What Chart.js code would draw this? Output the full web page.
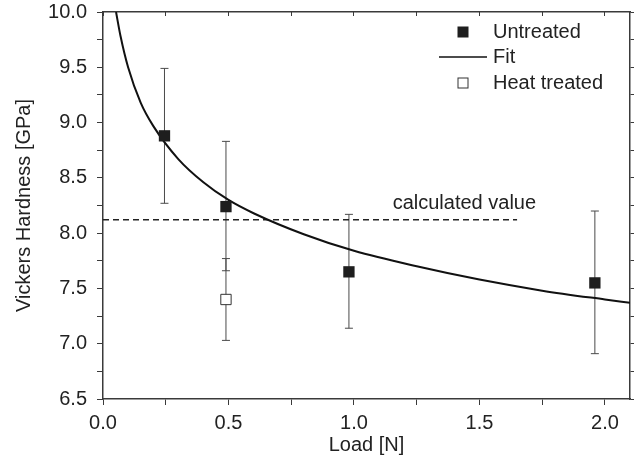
<!DOCTYPE html>
<html>
<head>
<meta charset="utf-8">
<script src="https://cdn.jsdelivr.net/npm/chart.js@4.4.1/dist/chart.umd.min.js"></script>
<style>
  body { margin: 0; background: #fff; }
  #wrap { width: 639px; height: 466px; }
</style>
</head>
<body>
<div id="wrap"><canvas id="hardnessChart" width="639" height="466"></canvas></div>
<script>
// load in N and hardness in GPa
const loads = [0.245, 0.49, 0.98, 1.96];
const untreated = [8.88, 8.24, 7.65, 7.55];
const untreatedHigh = [9.49, 8.83, 8.17, 8.20];
const untreatedLow = [8.27, 7.66, 7.14, 6.91];

const heatLoads = [0.49];
const heatTreated = [7.40];
const heatHigh = [7.77];
const heatLow = [7.03];

// fit curve, sampled by eye along the drawn line
const fitLoads = [0.052, 0.07, 0.1, 0.15, 0.2, 0.3, 0.4, 0.5, 0.6, 0.8, 1.0, 1.25, 1.5, 1.75, 2.0, 2.1];
const fitHardness = [10.0, 9.78, 9.50, 9.18, 8.97, 8.67, 8.46, 8.30, 8.18, 7.99, 7.84, 7.70, 7.58, 7.48, 7.40, 7.37];

const calcValue = 8.12;
const calcRange = [0, 1.65];

const xTicks = [0.0, 0.5, 1.0, 1.5, 2.0];
const yTicks = [6.5, 7.0, 7.5, 8.0, 8.5, 9.0, 9.5, 10.0];

const axisColor = '#3a3a3a';
const barColor = '#4a4a4a';

Chart.defaults.font.family = '"Liberation Sans", Arial, sans-serif';
Chart.defaults.font.size = 20;
Chart.defaults.color = '#222';

function pts(xs, ys) {
    return xs.map((x, i) => ({ x: x, y: ys[i] }));
}

// one little dataset per error bar, caps are 'line' point styles
let errorBars = [];
loads.forEach((x, i) => {
    errorBars.push({ x: x, lo: untreatedLow[i], hi: untreatedHigh[i] });
});
heatLoads.forEach((x, i) => {
    errorBars.push({ x: x, lo: heatLow[i], hi: heatHigh[i] });
});
const errorSets = errorBars.map(b => ({
    label: 'err',
    data: [{ x: b.x, y: b.lo }, { x: b.x, y: b.hi }],
    showLine: true,
    borderColor: barColor,
    borderWidth: 1,
    pointStyle: 'line',
    pointRadius: 4,
    pointBorderColor: barColor,
    pointBorderWidth: 1,
    order: 5
}));

// legend + "calculated value" text drawn inside the plot
const insideText = {
    id: 'insideText',
    afterDatasetsDraw(chart) {
        const ctx = chart.ctx;
        const area = chart.chartArea;
        const xs = chart.scales.x, ys = chart.scales.y;
        ctx.save();
        ctx.font = '20px "Liberation Sans", Arial, sans-serif';
        ctx.fillStyle = '#222';
        ctx.textBaseline = 'middle';
        ctx.textAlign = 'center';
        ctx.fillText('calculated value', xs.getPixelForValue(1.44), ys.getPixelForValue(calcValue) - 16);

        const mx = area.right - 167, tx = area.right - 137;
        const rows = [area.top + 20, area.top + 45, area.top + 71];
        ctx.textAlign = 'left';
        ctx.fillStyle = '#1e1e1e';
        ctx.fillRect(mx - 5.5, rows[0] - 5.5, 11, 11);
        ctx.strokeStyle = '#111';
        ctx.lineWidth = 1.5;
        ctx.beginPath();
        ctx.moveTo(area.right - 191, rows[1]);
        ctx.lineTo(area.right - 143, rows[1]);
        ctx.stroke();
        ctx.lineWidth = 1;
        ctx.strokeStyle = '#333';
        ctx.fillStyle = '#fff';
        ctx.fillRect(mx - 5, rows[2] - 5, 10, 10);
        ctx.strokeRect(mx - 5, rows[2] - 5, 10, 10);
        ctx.fillStyle = '#222';
        ctx.fillText('Untreated', tx, rows[0]);
        ctx.fillText('Fit', tx, rows[1]);
        ctx.fillText('Heat treated', tx, rows[2]);
        ctx.restore();
    }
};

const chartCanvas = document.getElementById('hardnessChart');
new Chart(chartCanvas, {
    type: 'scatter',
    data: {
        datasets: [
            {
                label: 'Untreated',
                data: pts(loads, untreated),
                pointStyle: 'rect',
                pointRadius: 8,
                backgroundColor: '#1e1e1e',
                borderColor: '#1e1e1e',
                borderWidth: 0,
                order: 1
            },
            {
                label: 'Heat treated',
                data: pts(heatLoads, heatTreated),
                pointStyle: 'rect',
                pointRadius: 7.3,
                backgroundColor: '#fff',
                borderColor: '#333',
                borderWidth: 1,
                order: 2
            },
            {
                label: 'Fit',
                data: pts(fitLoads, fitHardness),
                showLine: true,
                cubicInterpolationMode: 'monotone',
                borderColor: '#111',
                borderWidth: 2,
                pointRadius: 0,
                order: 3
            },
            {
                label: 'calculated value',
                data: pts(calcRange, [calcValue, calcValue]),
                showLine: true,
                borderColor: '#222',
                borderWidth: 1.5,
                borderDash: [6, 4],
                pointRadius: 0,
                order: 4
            },
            ...errorSets
        ]
    },
    options: {
        responsive: false,
        animation: false,
        layout: { padding: { top: 0, right: 0, left: 0, bottom: 11 } },
        plugins: {
            legend: { display: false },
            tooltip: { enabled: false }
        },
        scales: {
            x: {
                type: 'linear',
                position: 'bottom',
                min: 0,
                max: 2.1,
                afterBuildTicks: axis => {
                    axis.ticks = [];
                    for (let v = 0; v <= 2.1; v += 0.25) axis.ticks.push({ value: Math.round(v * 100) / 100 });
                },
                afterFit: axis => {
                    axis.height = 56;
                },
                ticks: {
                    autoSkip: false,
                    maxRotation: 0,
                    padding: 6,
                    callback: v => xTicks.includes(v) ? v.toFixed(1) : ''
                },
                grid: { drawOnChartArea: false, tickLength: 6, color: axisColor },
                border: { color: axisColor, width: 1.5 },
                title: {
                    display: true,
                    text: 'Load [N]',
                    font: { lineHeight: 1.0 },
                    padding: { top: 0, bottom: 0 }
                }
            },
            x2: {
                type: 'linear',
                position: 'top',
                min: 0,
                max: 2.1,
                afterBuildTicks: axis => {
                    axis.ticks = [];
                    for (let v = 0; v <= 2.1; v += 0.25) axis.ticks.push({ value: v });
                },
                afterFit: axis => {
                    axis.height = 12;
                },
                ticks: { display: false },
                grid: { drawOnChartArea: false, tickLength: -4, color: axisColor },
                border: { color: axisColor, width: 1.5 }
            },
            y: {
                type: 'linear',
                position: 'left',
                min: 6.5,
                max: 10,
                afterBuildTicks: axis => {
                    axis.ticks = [];
                    for (let v = 6.5; v <= 10.001; v += 0.25) axis.ticks.push({ value: Math.round(v * 100) / 100 });
                },
                afterFit: axis => {
                    axis.width = 103;
                    axis.paddingTop = 0;
                    axis.paddingBottom = 0;
                },
                ticks: {
                    autoSkip: false,
                    padding: 10,
                    callback: v => yTicks.includes(v) ? v.toFixed(1) : ''
                },
                grid: { drawOnChartArea: false, tickLength: 6, color: axisColor },
                border: { color: axisColor, width: 1.5 },
                title: { display: true, text: 'Vickers Hardness [GPa]', padding: { top: 12, bottom: 0 } }
            },
            y2: {
                type: 'linear',
                position: 'right',
                min: 6.5,
                max: 10,
                afterBuildTicks: axis => {
                    axis.ticks = [];
                    for (let v = 6.5; v <= 10.001; v += 0.25) axis.ticks.push({ value: v });
                },
                afterFit: axis => {
                    axis.width = 9;
                    axis.paddingTop = 0;
                    axis.paddingBottom = 0;
                },
                ticks: { display: false },
                grid: { drawOnChartArea: false, tickLength: 4, color: axisColor },
                border: { color: axisColor, width: 1.5 }
            }
        }
    },
    plugins: [insideText]
});
</script>
</body>
</html>
